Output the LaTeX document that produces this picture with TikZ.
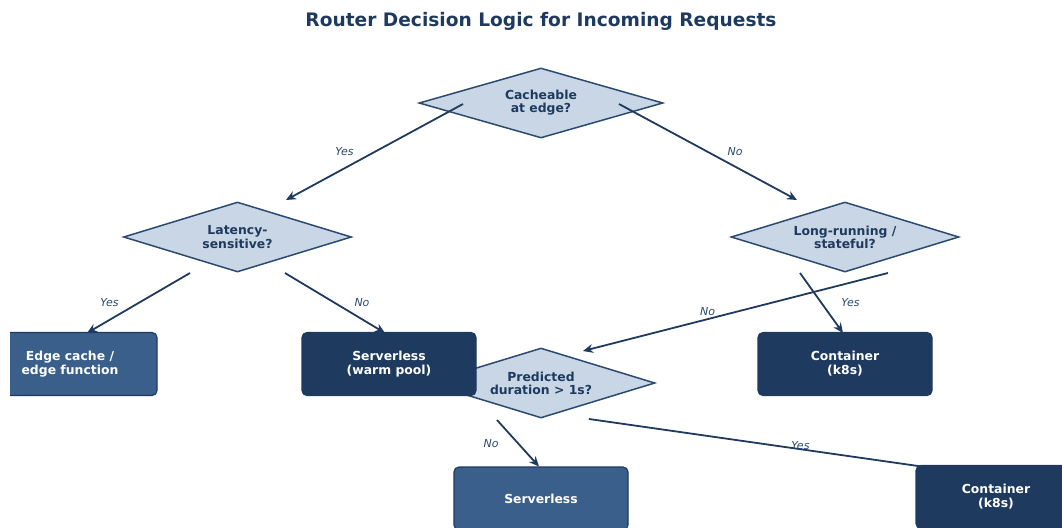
\documentclass[tikz,border=0pt]{standalone}
\usepackage{fontspec}
\setmainfont{DejaVu Sans}
\usepackage{tikz}
\usetikzlibrary{shapes.geometric, arrows.meta, calc}

\definecolor{navy}{HTML}{1F3A5F}
\definecolor{midblue}{HTML}{3A5F8A}
\definecolor{decfill}{HTML}{C8D6E5}
\definecolor{decborder}{HTML}{2B4A70}

\pgfdeclarelayer{front}
\pgfsetlayers{main,front}

\tikzstyle{heading} = [
    text = navy,
    font = \fontsize{9.3}{11}\selectfont\bfseries
]
\tikzstyle{decision} = [
    diamond,
    draw = decborder,
    fill = decfill,
    line width = 0.75pt,
    text = navy,
    align = center,
    inner sep = 0pt,
    shape aspect = 3.3,
    minimum width = 114pt,
    minimum height = 35pt,
    font = \fontsize{6.2}{6.6}\selectfont\bfseries
]
\tikzstyle{outcome} = [
    rectangle,
    draw = navy,
    fill = navy,
    line width = 0.6pt,
    text = white,
    align = center,
    rounded corners = 2.5pt,
    minimum width = 87pt,
    minimum height = 31.5pt,
    font = \fontsize{6.2}{7}\selectfont\bfseries
]
\tikzstyle{outcomealt} = [
    outcome,
    fill = midblue
]
\tikzstyle{flow} = [
    draw = navy,
    line width = 0.9pt,
    -{Stealth[length = 5pt, width = 4.4pt]}
]
\tikzstyle{lbl} = [
    text = decborder,
    font = \fontsize{5.5}{6}\selectfont\itshape
]

\begin{document}
\begin{tikzpicture}[x = 0.5pt, y = -0.5pt]

                \useasboundingbox (0,0) rectangle (1062,527);

                \node [heading] (title) at (541,21) {Router Decision Logic for Incoming Requests};

                % Decisions
                \node [decision, minimum width = 122pt] (cache) at (541,103) {Cacheable\\at edge?};
                \node [decision] (latency) at (237.5,237) {Latency-\\sensitive?};
                \node [decision] (longrun) at (845,237) {Long-running /\\stateful?};
                \node [decision] (duration) at (541,383) {Predicted\\duration > 1s?};

                % Targets (drawn over the lines)
                \begin{pgfonlayer}{front}
                \begin{scope}
                \clip (10,0) rectangle (1062,527);
                \node [outcomealt] (edgefn) at (70,364) {Edge cache /\\edge function};
                \node [outcome] (warm) at (389,364) {Serverless\\(warm pool)};
                \node [outcome] (k8sA) at (845,364) {Container\\(k8s)};
                \node [outcomealt] (cold) at (541,498.5) {Serverless};
                \node [outcome, minimum width = 80pt] (k8sB) at (996,497) {Container\\(k8s)};
                \end{scope}
                \end{pgfonlayer}

                % Branches
                \draw [flow] ($(cache)+(-78,1)$) -- node [lbl, xshift = -15pt] {Yes} ($(latency)+(48.5,-37)$);
                \draw [flow] ($(cache)+(78,1)$) -- node [lbl, xshift = 13.5pt] {No} ($(longrun)+(-48,-37)$);
                \draw [flow] ($(latency)+(-47.5,36)$) -- node [lbl, xshift = -14.5pt] {Yes} ($(edgefn)+(17,-31)$);
                \draw [flow] ($(latency)+(47.5,36)$) -- node [lbl, xshift = 13.5pt] {No} ($(warm)+(-4,-31)$);
                \draw [flow] ($(longrun)+(-45,36)$) -- node [lbl, xshift = 14.5pt] {Yes} ($(k8sA)+(-2,-31)$);
                \draw [flow] ($(longrun)+(43,36)$) -- node [lbl, xshift = -14pt] {No} ($(duration)+(42,-32)$);
                \draw [flow] ($(duration)+(-44,37)$) -- node [lbl, xshift = -13.5pt] {No} ($(cold)+(-2,-32)$);
                \draw [flow] ($(duration)+(48,36)$) -- node [lbl, pos = 0.57, yshift = 2pt] {Yes} ($(k8sB)+(-36,-25)$);

            \end{tikzpicture}
\end{document}
